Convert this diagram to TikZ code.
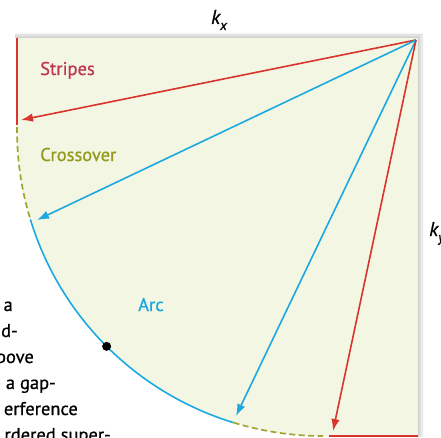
\documentclass[tikz,border=0pt]{standalone}
\usepackage{fontspec}
\setmainfont{PT Sans}
\newfontfamily\labfont{PT Sans}[FakeBold=0.7]
\usetikzlibrary{arrows.meta}
\definecolor{bgfill}{HTML}{F3F6E2}
\definecolor{redline}{HTML}{D9342E}
\definecolor{blueline}{HTML}{1CA9E1}
\definecolor{olive}{HTML}{A3A532}
\definecolor{stripesc}{HTML}{BF3650}
\definecolor{crossc}{HTML}{939A1C}
\definecolor{arcc}{HTML}{18A7E0}
\tikzset{
  ray/.style={line width=1.6pt, -{Latex[length=12pt,width=8.5pt]}},
  edge/.style={line width=1.6pt},
  dashedge/.style={line width=1.7pt, olive, dash pattern=on 6pt off 3.5pt},
  lab/.style={font=\labfont\fontsize{18.5}{22}\selectfont, anchor=base west, inner sep=0pt},
  para/.style={font=\labfont\fontsize{18.5}{22}\selectfont, anchor=base east, inner sep=0pt, text=black},
}
\begin{document}
\begin{tikzpicture}[x=1pt,y=1pt]
\clip (0,0) rectangle (441,437);
\useasboundingbox (0,0) rectangle (441,437);
% shadow
\foreach \i/\o in {0.8/0.20,1.6/0.15,2.4/0.11,3.2/0.08,4/0.05,4.8/0.03,5.6/0.015}{
  \draw[black, opacity=\o, line width=0.9pt] (15,399+\i) -- (418+\i,399+\i) -- (418+\i,0);
}
% region
\fill[bgfill] (17,399) -- (418,399) -- (418,1) -- (323,1)
  arc[start angle=270, end angle=180, radius=306] -- cycle;
% boundary
\draw[edge, redline] (17,399) -- (17,312);
\draw[dashedge] (17,310) -- (17,307) arc[start angle=180, end angle=197, radius=306];
\draw[edge, blueline] (323,307) ++(197:306) arc[start angle=197, end angle=253, radius=306];
\draw[dashedge] (323,307) ++(253:306) arc[start angle=253, end angle=270, radius=306];
\draw[edge, redline] (329,1) -- (418,1);
% dot
\fill[black] (323,307) ++(225:306) circle[radius=4.5pt];
% rays
\coordinate (O) at (416,397);
\coordinate (t1) at (21,317);
\coordinate (t2) at (37,217);
\coordinate (t3) at (236,21);
\coordinate (t4) at (333,6);
\draw[ray, redline] (O) -- (t1);
\draw[ray, blueline] (O) -- (t2);
\draw[ray, blueline] (O) -- (t3);
\draw[ray, redline] (O) -- (t4);
% labels
\node[lab, text=stripesc] (s) at (40,362) {Stripes};
\node[lab, text=crossc] (c) at (40,276) {Crossover};
\node[lab, text=arcc] (a) at (138,126) {Arc};
\node[lab, anchor=base, text=black] (kx) at (219,413) {\fontsize{20}{22}\selectfont\itshape k\raisebox{-0.3em}{\fontsize{14}{16}\selectfont x}};
\node[lab, text=black] (ky) at (429,201) {\fontsize{20}{22}\selectfont\itshape k\raisebox{-0.3em}{\fontsize{14}{16}\selectfont y}};
% paragraph fragments
\node[para] (p1) at (13,126) {a};
\node[para] (p2) at (18,100) {d-};
\node[para] (p3) at (34,74) {bove};
\node[para] (p4) at (56,48) {a gap-};
\node[para] (p5) at (78,22) {erference};
\node[para] (p6) at (111,-4) {rdered super-};
\end{tikzpicture}
\end{document}
